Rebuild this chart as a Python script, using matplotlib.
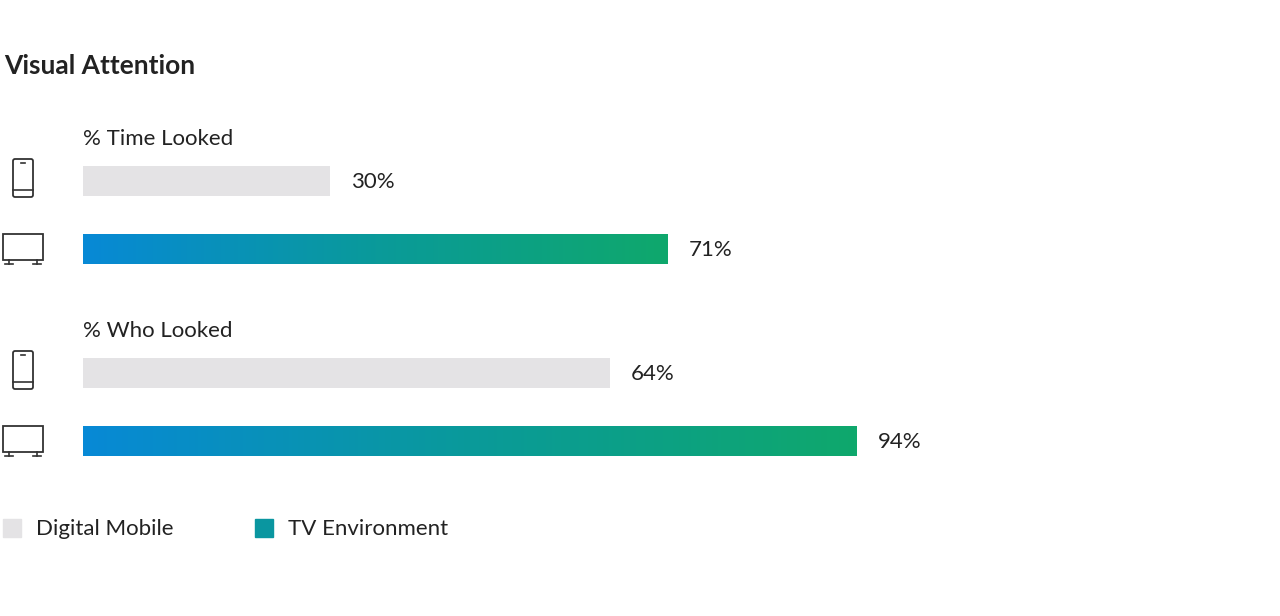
import numpy as np
import matplotlib.pyplot as plt
from matplotlib.colors import LinearSegmentedColormap
from matplotlib.patches import Rectangle, FancyBboxPatch

plt.rcParams['font.family'] = 'Lato'

metrics = ['% Time Looked', '% Who Looked']
mobile = [30, 64]
tv = [71, 94]
series = ['Digital Mobile', 'TV Environment']

W, H = 1280, 616
fig = plt.figure(figsize=(12.8, 6.16), dpi=100)
fig.patch.set_facecolor('white')

# overlay axes in pixel coordinates for text / icons
base = fig.add_axes([0, 0, 1, 1])
base.set_xlim(0, W); base.set_ylim(H, 0); base.axis('off')

# bar axes: x in percent, y in pixels
bx = fig.add_axes([83 / W, 0, 823 / W, 1])
bx.set_xlim(0, 100); bx.set_ylim(H, 0); bx.axis('off')

base.text(4, 66, 'Visual Attention', fontsize=19, fontweight='bold', color='#222222', va='center')

grad = LinearSegmentedColormap.from_list('g', ['#0789d6', '#0a9a9a', '#0fa86c'])
gray = '#e4e3e5'

def phone(x, y):
    base.add_patch(FancyBboxPatch((x - 10, y - 19), 20, 38, boxstyle='round,pad=0,rounding_size=2',
                                  fill=False, ec='#333333', lw=1.3))
    base.plot([x - 10, x + 10], [y + 12, y + 12], color='#333333', lw=1.2)
    base.plot([x - 2, x + 2], [y - 15, y - 15], color='#333333', lw=1.2)

def tvicon(x, y):
    base.add_patch(Rectangle((x - 20, y - 14), 40, 26, fill=False, ec='#333333', lw=1.3))
    for dx in (-14, 14):
        base.plot([x + dx, x + dx], [y + 12, y + 16], color='#333333', lw=1.2)
        base.plot([x + dx - 4, x + dx + 4], [y + 16, y + 16], color='#333333', lw=1.2)

tops = [139, 331]
for i, m in enumerate(metrics):
    t = tops[i]
    base.text(83, t, m, fontsize=16, color='#222222', va='center')
    ym, yt = t + 42, t + 110
    bx.barh(ym, mobile[i], height=30, color=gray, edgecolor='none')
    bar = bx.barh(yt, tv[i], height=30, color='none', edgecolor='none')[0]
    im = bx.imshow(np.linspace(0, 1, 256)[None, :], cmap=grad, aspect='auto',
                   extent=[0, tv[i], yt + 15, yt - 15], zorder=2)
    im.set_clip_path(bar)
    bx.text(mobile[i] + 2.6, ym + 1, f'{mobile[i]}%', fontsize=16, color='#222222', va='center')
    bx.text(tv[i] + 2.6, yt + 1, f'{tv[i]}%', fontsize=16, color='#222222', va='center')
    phone(23, ym - 3)
    tvicon(23, yt - 1)
bx.set_xlim(0, 100); bx.set_ylim(H, 0)

# legend
base.add_patch(Rectangle((3, 519), 18, 18, color=gray))
base.text(36, 529, series[0], fontsize=16, color='#222222', va='center')
base.add_patch(Rectangle((255, 519), 18, 18, color='#0a96a0'))
base.text(288, 529, series[1], fontsize=16, color='#222222', va='center')

fig.savefig('out.png', dpi=100)
